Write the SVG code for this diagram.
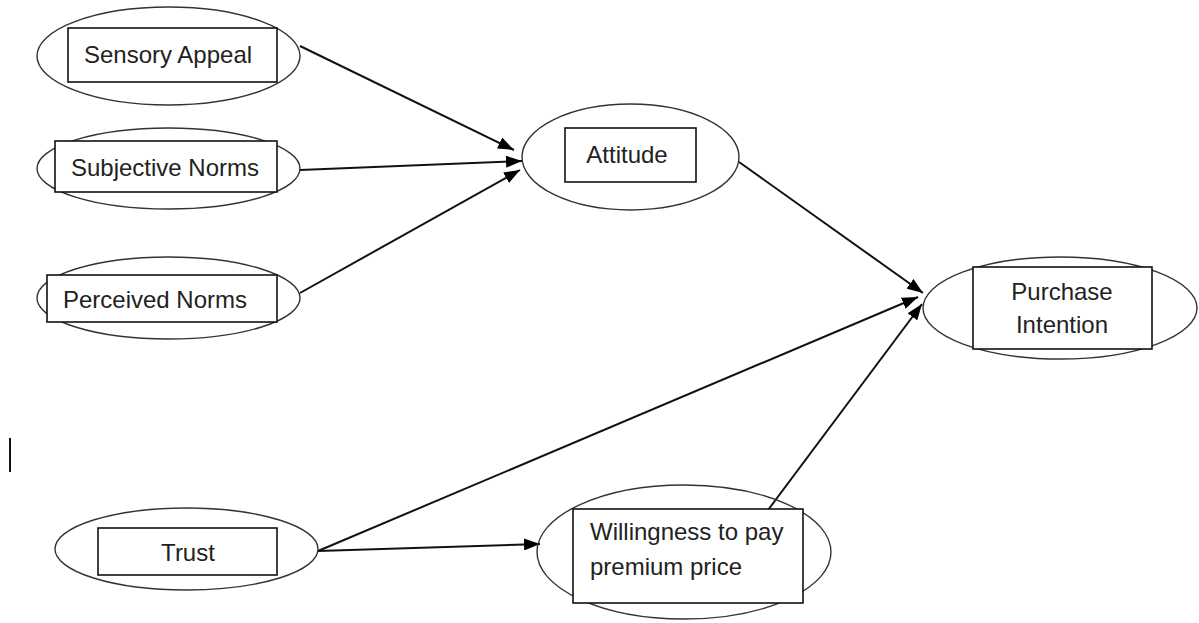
<svg xmlns="http://www.w3.org/2000/svg" width="1199" height="623" viewBox="0 0 1199 623">
<style>
.ell{fill:none;stroke:#333;stroke-width:1.4}
.box{fill:#fff;stroke:#111;stroke-width:1.6}
.lbl{font-family:"Liberation Sans",Arial,sans-serif;font-size:24px;fill:#222;text-anchor:middle}
.lbl2{font-family:"Liberation Sans",Arial,sans-serif;font-size:24px;fill:#222}
.edge{stroke:#111;stroke-width:2;fill:none;marker-end:url(#ah)}
</style>
<defs>
<marker id="ah" viewBox="0 0 16 12" refX="16" refY="6" markerWidth="16" markerHeight="12" markerUnits="userSpaceOnUse" orient="auto">
<path d="M0,0 L16,6 L0,12 Z" fill="#000"/>
</marker>
</defs>
<rect width="1199" height="623" fill="#fff"/>
<g id="connectors">
<line class="edge" x1="300" y1="46" x2="514" y2="150"/>
<line class="edge" x1="300" y1="170" x2="522" y2="161"/>
<line class="edge" x1="300" y1="293" x2="520" y2="170"/>
<line class="edge" x1="739" y1="162" x2="923" y2="293"/>
<line class="edge" x1="318" y1="551" x2="918" y2="297"/>
<line class="edge" x1="318" y1="551" x2="540" y2="544"/>
<line class="edge" x1="768" y1="510" x2="922" y2="304"/>
</g>
<g id="sensory">
<ellipse class="ell" cx="168.5" cy="56" rx="131.5" ry="49"/>
<rect class="box" x="68" y="28" width="209" height="54"/>
<text class="lbl" x="168" y="63">Sensory Appeal</text>
</g>
<g id="subjective">
<ellipse class="ell" cx="168.5" cy="168.5" rx="131.5" ry="40.5"/>
<rect class="box" x="55" y="141" width="222" height="51"/>
<text class="lbl" x="165" y="176">Subjective Norms</text>
</g>
<g id="perceived">
<ellipse class="ell" cx="168.5" cy="298" rx="131.5" ry="41"/>
<rect class="box" x="47" y="275" width="230" height="47"/>
<text class="lbl" x="155" y="308">Perceived Norms</text>
</g>
<g id="attitude">
<ellipse class="ell" cx="630.5" cy="157" rx="108.5" ry="53"/>
<rect class="box" x="565" y="128" width="131" height="54"/>
<text class="lbl" x="627" y="163">Attitude</text>
</g>
<g id="purchase">
<ellipse class="ell" cx="1060" cy="308" rx="137" ry="51"/>
<rect class="box" x="973" y="267" width="179" height="82"/>
<text class="lbl" x="1062" y="300">Purchase</text>
<text class="lbl" x="1062" y="333">Intention</text>
</g>
<g id="trust">
<ellipse class="ell" cx="186.5" cy="549" rx="131.5" ry="41"/>
<rect class="box" x="98" y="528" width="179" height="47"/>
<text class="lbl" x="188" y="561">Trust</text>
</g>
<g id="willingness">
<ellipse class="ell" cx="684" cy="552" rx="147" ry="67"/>
<rect class="box" x="573" y="509" width="230" height="94"/>
<text class="lbl2" x="590" y="540">Willingness to pay</text>
<text class="lbl2" x="590" y="575">premium price</text>
</g>
<rect x="9" y="438" width="2" height="34" fill="#111"/>
</svg>
